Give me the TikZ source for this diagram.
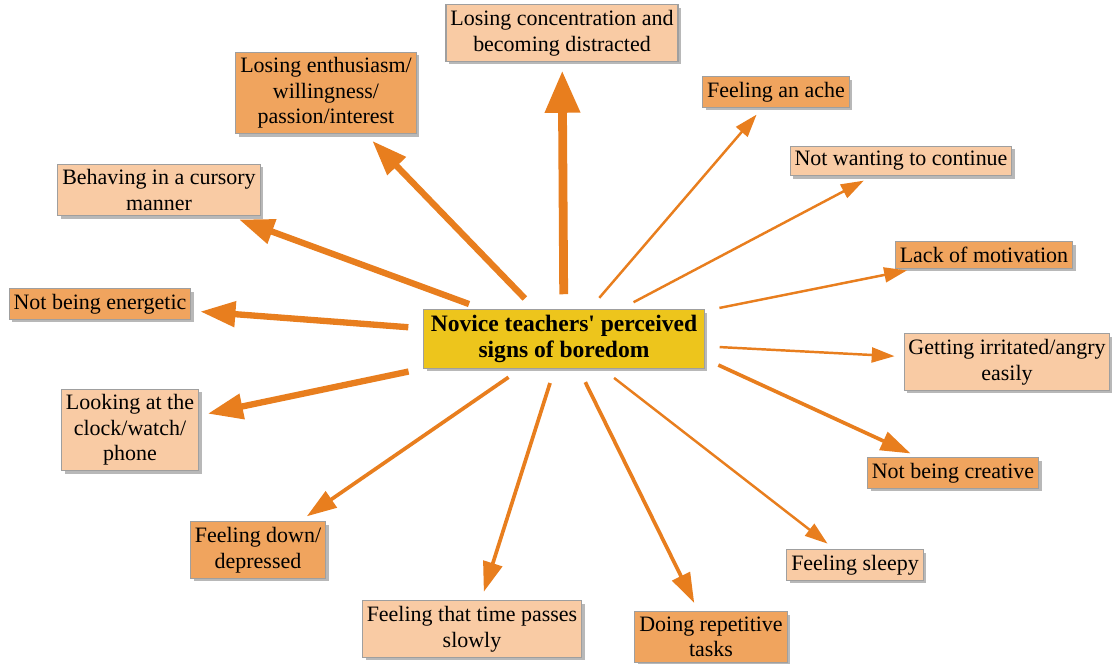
\documentclass[tikz,border=0pt]{standalone}
\usepackage{fontspec}
\setmainfont{Liberation Serif}
\usepackage{xcolor}
\usepackage{tikz}
\usetikzlibrary{arrows.meta,shadows}
\definecolor{peach}{HTML}{F9CBA4}
\definecolor{tangerine}{HTML}{F0A45E}
\definecolor{boredgold}{HTML}{EDC51C}
\definecolor{signorange}{HTML}{E87E1E}

\begin{document}
\begin{tikzpicture}[
        signbox/.style={
          draw=gray!75,
          line width=0.6pt,
          fill=peach,
          align=center,
          inner xsep=2.5pt,
          inner ysep=3pt,
          font=\fontsize{12.5}{14.6}\selectfont,
          drop shadow={shadow xshift=1.8pt, shadow yshift=-1.8pt, fill=gray!70, opacity=0.8}
        },
        arrow/.style={draw=signorange, shorten <=0.3cm, shorten >=0.18cm},
        hugearrow/.style={arrow, line width=5pt, -{Triangle[length=24pt, width=19pt]}},
        bigarrow/.style={arrow, line width=3.6pt, -{Triangle[length=20pt, width=14pt]}},
        midarrow/.style={arrow, line width=2.1pt, -{Triangle[length=17pt, width=11pt]}},
        smallarrow/.style={arrow, line width=1.4pt, -{Triangle[length=13pt, width=8.5pt]}}
      ]
        \useasboundingbox (0,0) rectangle (22.24,13.28);

        \node[signbox, fill=boredgold, inner xsep=4pt, font=\fontsize{13.4}{15}\selectfont\bfseries] (boredom) at (11.28,6.50) {Novice teachers\textquotesingle{} perceived\\signs of boredom};

        \node[signbox] (distract) at (11.24,12.62) {Losing concentration and\\becoming distracted};
        \node[signbox, fill=tangerine] (enthus) at (6.52,11.42) {Losing enthusiasm/\\willingness/\\passion/interest};
        \node[signbox, fill=tangerine] (ache) at (15.52,11.44) {Feeling an ache};
        \node[signbox] (cont) at (18.02,10.06) {Not wanting to continue};
        \node[signbox] (cursory) at (3.18,9.48) {Behaving in a cursory\\manner};
        \node[signbox, fill=tangerine] (motiv) at (19.68,8.18) {Lack of motivation};
        \node[signbox, fill=tangerine] (energy) at (2.00,7.20) {Not being energetic};
        \node[signbox] (angry) at (20.14,6.04) {Getting irritated/angry\\easily};
        \node[signbox] (clock) at (2.60,4.68) {Looking at the\\clock/watch/\\phone};
        \node[signbox, fill=tangerine] (creative) at (19.06,3.82) {Not being creative};
        \node[signbox, fill=tangerine] (down) at (5.16,2.28) {Feeling down/\\depressed};
        \node[signbox] (sleepy) at (17.10,1.98) {Feeling sleepy};
        \node[signbox] (slowly) at (9.44,0.70) {Feeling that time passes\\slowly};
        \node[signbox, fill=tangerine] (tasks) at (14.22,0.54) {Doing repetitive\\tasks};

        \draw[hugearrow] (boredom) -- (distract);
        \draw[bigarrow] (boredom) -- (enthus);
        \draw[bigarrow] (boredom) -- (cursory);
        \draw[bigarrow] (boredom) -- (energy);
        \draw[bigarrow] (boredom) -- (clock);
        \draw[midarrow] (boredom) -- (down);
        \draw[midarrow] (boredom) -- (slowly);
        \draw[midarrow] (boredom) -- (tasks);
        \draw[midarrow] (boredom.-8) -- (creative);
        \draw[smallarrow] (boredom) -- (ache);
        \draw[smallarrow] (boredom) -- (cont);
        \draw[smallarrow] (boredom) -- (motiv);
        \draw[smallarrow] (boredom) -- (angry);
        \draw[smallarrow] (boredom) -- (sleepy);
      \end{tikzpicture}
\end{document}
